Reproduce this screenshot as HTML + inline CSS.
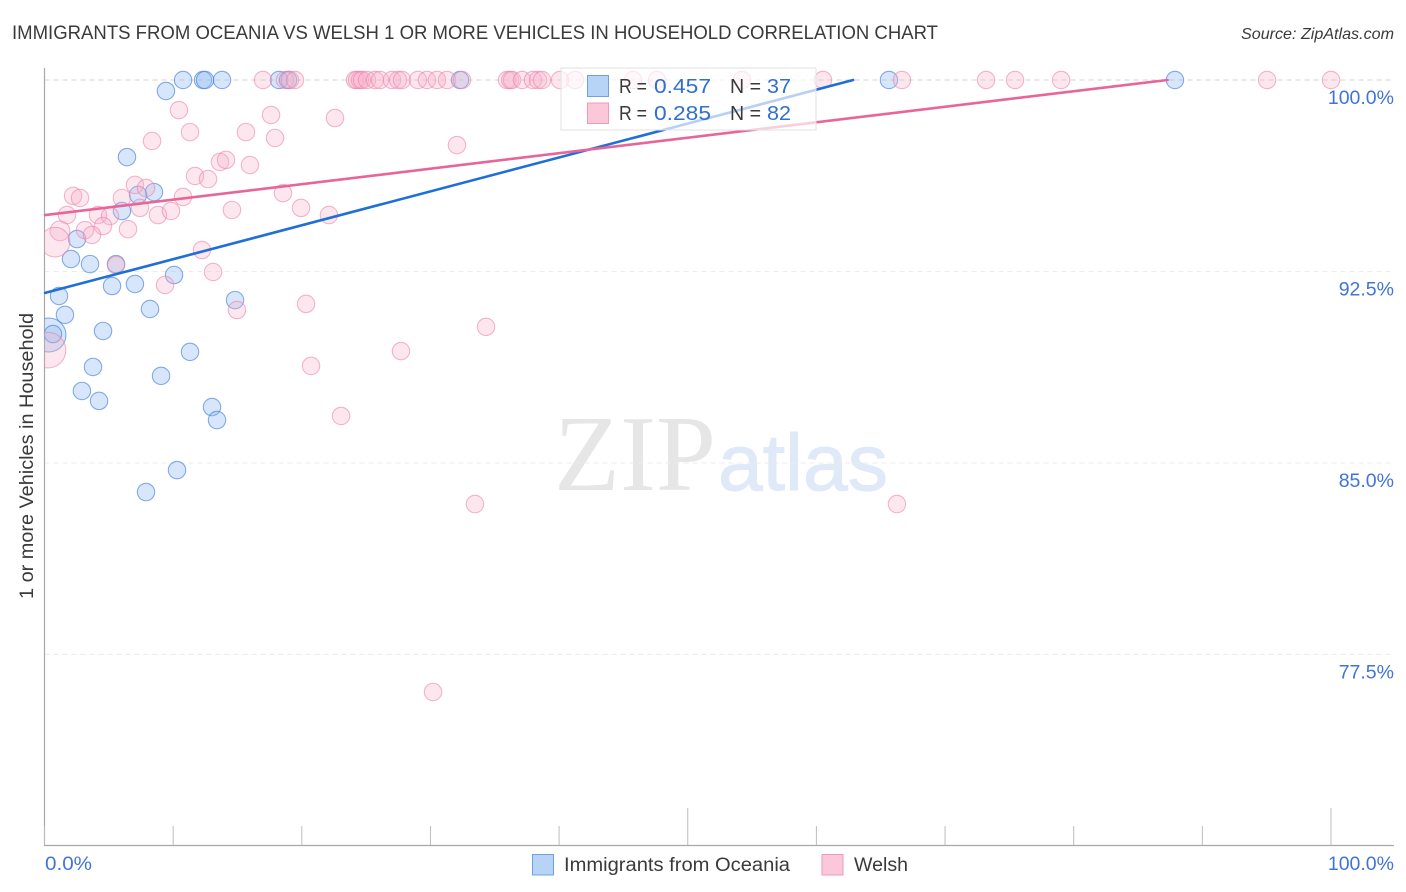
<!DOCTYPE html>
<html lang="en">
<head>
<meta charset="utf-8">
<title>Immigrants from Oceania vs Welsh correlation chart</title>
<style>
html,body{margin:0;padding:0;background:#fff;width:1406px;height:892px;overflow:hidden}
svg{display:block;font-family:"Liberation Sans",sans-serif}
</style>
</head>
<body>
<svg id="chart" width="1406" height="892" viewBox="0 0 1406 892" xmlns="http://www.w3.org/2000/svg">
  <defs>
    <clipPath id="plot-clip"><rect x="44.5" y="60" width="1350" height="785"/></clipPath>
  </defs>
  <rect width="1406" height="892" fill="#fff"/>
  <text x="12" y="39" font-size="19.5" fill="#3a3a3a" textLength="926" lengthAdjust="spacingAndGlyphs">IMMIGRANTS FROM OCEANIA VS WELSH 1 OR MORE VEHICLES IN HOUSEHOLD CORRELATION CHART</text>
  <text x="1394" y="39" font-size="16" font-style="italic" fill="#3a3a3a" text-anchor="end" textLength="153" lengthAdjust="spacingAndGlyphs">Source: ZipAtlas.com</text>

  <g>
    <text x="554" y="490" font-family="'Liberation Serif',serif" font-size="108" fill="#e6e6e6" textLength="162" lengthAdjust="spacingAndGlyphs">ZIP</text>
    <text x="718" y="490" font-size="80" fill="#dfe9f7" stroke="#dfe9f7" stroke-width="1" textLength="170" lengthAdjust="spacingAndGlyphs">atlas</text>
  </g>

  <g id="grid"></g>
  <g id="axes"></g>
  <g id="blue-points" clip-path="url(#plot-clip)"></g>
  <g id="pink-points" clip-path="url(#plot-clip)"></g>
  <g id="trend-lines"></g>

  <text transform="translate(33,456) rotate(-90)" font-size="19" fill="#3a3a3a" text-anchor="middle" textLength="286" lengthAdjust="spacingAndGlyphs">1 or more Vehicles in Household</text>

  <g>
    <rect x="561" y="68" width="255" height="62" fill="#fff" fill-opacity="0.68" stroke="#e2e2e2" stroke-width="1"/>
    <rect x="587.5" y="75.5" width="21" height="21" fill="#b7d3f6" stroke="#6fa0e0"/>
    <rect x="587.5" y="103" width="21" height="20.5" fill="#fcc8d9" stroke="#ee9ab8"/>
    <text x="619" y="93" font-size="20" fill="#3a3a3a" textLength="28" lengthAdjust="spacingAndGlyphs">R =</text>
    <text x="654" y="93" font-size="20.5" fill="#2f6fce" textLength="57" lengthAdjust="spacingAndGlyphs">0.457</text>
    <text x="730" y="93" font-size="20" fill="#3a3a3a" textLength="31" lengthAdjust="spacingAndGlyphs">N =</text>
    <text x="767" y="93" font-size="20.5" fill="#2f6fce" textLength="24" lengthAdjust="spacingAndGlyphs">37</text>
    <text x="619" y="120" font-size="20" fill="#3a3a3a" textLength="28" lengthAdjust="spacingAndGlyphs">R =</text>
    <text x="654" y="120" font-size="20.5" fill="#2f6fce" textLength="57" lengthAdjust="spacingAndGlyphs">0.285</text>
    <text x="730" y="120" font-size="20" fill="#3a3a3a" textLength="31" lengthAdjust="spacingAndGlyphs">N =</text>
    <text x="767" y="120" font-size="20.5" fill="#2f6fce" textLength="24" lengthAdjust="spacingAndGlyphs">82</text>
  </g>

  <g>
    <g>
      <rect x="532.5" y="854.5" width="21" height="20.5" fill="#b7d3f6" stroke="#6fa0e0"/>
      <text x="564" y="871" font-size="19" fill="#3a3a3a" textLength="226" lengthAdjust="spacingAndGlyphs">Immigrants from Oceania</text>
    </g>
    <g>
      <rect x="822" y="854.5" width="21" height="20.5" fill="#fcc8d9" stroke="#ee9ab8"/>
      <text x="854" y="871" font-size="19" fill="#3a3a3a" textLength="54" lengthAdjust="spacingAndGlyphs">Welsh</text>
    </g>
  </g>
</svg>
<script>
const yTicks = [100, 92.5, 85, 77.5];
const yTickLabels = ["100.0%", "92.5%", "85.0%", "77.5%"];
const xTicks = [0, 10, 20, 30, 40, 50, 60, 70, 80, 90, 100];
const xEndLabels = ["0.0%", "100.0%"];

const blueX = [10.77, 12.32, 12.48, 13.80, 18.23, 18.93, 32.30, 65.64, 87.87, 9.44, 6.41, 8.51, 7.27, 6.02, 2.53, 2.06, 3.54, 5.56, 5.25, 7.03, 10.07, 1.13, 8.20, 14.81, 1.59, 4.55, 0.35, 0.66, 3.77, 11.31, 9.06, 2.91, 4.24, 13.02, 13.41, 10.30, 7.89];
const blueY = [100, 100, 100, 100, 100, 100, 100, 100, 100, 99.57, 96.98, 95.61, 95.50, 94.87, 93.77, 92.99, 92.79, 92.79, 91.93, 92.01, 92.36, 91.54, 91.03, 91.38, 90.80, 90.17, 90.01, 90.05, 88.76, 89.35, 88.41, 87.82, 87.43, 87.19, 86.68, 84.72, 83.86];
const blueSize = [1, 1, 1, 1, 1, 1, 1, 1, 1, 1, 1, 1, 1, 1, 1, 1, 1, 1, 1, 1, 1, 1, 1, 1, 1, 1, 3.8, 1, 1, 1, 1, 1, 1, 1, 1, 1, 1];

const pinkX = [16.98, 18.69, 19.08, 19.47, 24.14, 24.29, 24.52, 24.68, 25.07, 25.69, 26.08, 27.01, 27.48, 27.79, 29.03, 29.73, 30.51, 31.29, 32.45, 35.95, 36.19, 36.34, 37.12, 37.97, 38.36, 38.67, 40.07, 41.24, 45.75, 47.61, 54.22, 60.51, 66.65, 73.19, 75.44, 79.02, 95.03, 100, 10.45, 8.36, 11.31, 17.61, 15.66, 17.92, 22.58, 32.06, 13.64, 14.11, 15.97, 11.70, 12.71, 2.22, 2.76, 7.03, 7.89, 6.02, 10.77, 18.54, 14.57, 19.94, 22.11, 1.75, 4.16, 5.09, 7.42, 8.82, 9.83, 6.49, 4.55, 3.15, 3.69, 1.20, 0.82, 12.24, 13.10, 5.56, 9.37, 20.33, 14.96, 34.32, 27.71, 20.72, 23.05, 33.46, 66.26, 30.20, 0.27];
const pinkY = [100, 100, 100, 100, 100, 100, 100, 100, 100, 100, 100, 100, 100, 100, 100, 100, 100, 100, 100, 100, 100, 100, 100, 100, 100, 100, 100, 100, 100, 100, 100, 100, 100, 100, 100, 100, 100, 100, 98.82, 97.61, 97.96, 98.63, 97.96, 97.73, 98.51, 97.45, 96.79, 96.87, 96.67, 96.24, 96.12, 95.46, 95.38, 95.89, 95.77, 95.38, 95.42, 95.57, 94.91, 94.99, 94.71, 94.71, 94.71, 94.67, 94.99, 94.71, 94.87, 94.16, 94.28, 94.12, 93.93, 94.09, 93.65, 93.34, 92.48, 92.75, 91.97, 91.23, 90.99, 90.33, 89.38, 88.80, 86.84, 83.39, 83.39, 76.03, 89.42];
const pinkSize = [1, 1, 1, 1, 1, 1, 1, 1, 1, 1, 1, 1, 1, 1, 1, 1, 1, 1, 1, 1, 1, 1, 1, 1, 1, 1, 1, 1, 1, 1, 1, 1, 1, 1, 1, 1, 1, 1, 1, 1, 1, 1, 1, 1, 1, 1, 1, 1, 1, 1, 1, 1, 1, 1, 1, 1, 1, 1, 1, 1, 1, 1, 1, 1, 1, 1, 1, 1, 1, 1, 1, 1.3, 2.9, 1, 1, 1, 1, 1, 1, 1, 1, 1, 1, 1, 1, 1, 4.2];

const blueTrendX = [0.05, 62.85];
const blueTrendY = [91.66, 100];
const pinkTrendX = [0.05, 87.3];
const pinkTrendY = [94.71, 100];

const SVG_NS = 'http://www.w3.org/2000/svg';
function xScale(v) { return 44.5 + v * 12.865; }
function yScale(v) { return 80 + (100 - v) * 25.53; }
function radius(s) { return 8.7 * Math.sqrt(s); }
function make(tag, attrs, parent) {
  const el = document.createElementNS(SVG_NS, tag);
  Object.keys(attrs).forEach(function (k) { el.setAttribute(k, attrs[k]); });
  parent.appendChild(el);
  return el;
}

const grid = document.getElementById('grid');
const axes = document.getElementById('axes');

yTicks.forEach(function (t, i) {
  const line = make('line', {
    x1: 44.5, x2: 1394, y1: yScale(t), y2: yScale(t),
    stroke: i === 0 ? '#d3d3d3' : '#ececec', 'stroke-width': 1, 'stroke-dasharray': '5 4'
  }, grid);
  
  
  const label = make('text', {
    x: 1394, y: yScale(t) + 24, 'font-size': 19.5, fill: '#4174d6', 'text-anchor': 'end'
  }, axes);
  label.textContent = yTickLabels[i];
  
  
});

const yAxis = make('line', { x1: 44.5, x2: 44.5, y1: 68, y2: 845, stroke: '#a8a8a8', 'stroke-width': 1.2 }, axes);


const xAxis = make('line', { x1: 44, x2: 1394, y1: 845.5, y2: 845.5, stroke: '#a8a8a8', 'stroke-width': 1.2 }, axes);



xTicks.forEach(function (t) {
  const major = t === 50 || t === 100;
  const tick = make('line', {
    x1: xScale(t), x2: xScale(t), y1: major ? 808 : 826, y2: 845,
    stroke: '#bdbdbd', 'stroke-width': 1
  }, axes);
  
  
});

const xLabelLeft = make('text', { x: 45, y: 870, 'font-size': 19.5, fill: '#4174d6', textLength: 47, lengthAdjust: 'spacingAndGlyphs' }, axes);
xLabelLeft.textContent = xEndLabels[0];


const xLabelRight = make('text', { x: 1394, y: 870, 'font-size': 19.5, fill: '#4174d6', 'text-anchor': 'end' }, axes);
xLabelRight.textContent = xEndLabels[1];



const bluePoints = document.getElementById('blue-points');
blueX.forEach(function (v, i) {
  const c = make('circle', {
    cx: xScale(v), cy: yScale(blueY[i]), r: radius(blueSize[i]),
    fill: 'rgba(143,186,240,0.36)', stroke: 'rgba(70,130,220,0.65)', 'stroke-width': 1.1
  }, bluePoints);
  
  
});

const pinkPoints = document.getElementById('pink-points');
pinkX.forEach(function (v, i) {
  const c = make('circle', {
    cx: xScale(v), cy: yScale(pinkY[i]), r: radius(pinkSize[i]),
    fill: 'rgba(250,175,198,0.3)', stroke: 'rgba(235,130,170,0.58)', 'stroke-width': 1.1
  }, pinkPoints);
  
  
});

const trendLines = document.getElementById('trend-lines');
const blueLine = make('line', {
  x1: xScale(blueTrendX[0]), y1: yScale(blueTrendY[0]), x2: xScale(blueTrendX[1]), y2: yScale(blueTrendY[1]),
  stroke: '#1f6fd8', 'stroke-width': 2.6, 'stroke-linecap': 'round'
}, trendLines);


const pinkLine = make('line', {
  x1: xScale(pinkTrendX[0]), y1: yScale(pinkTrendY[0]), x2: xScale(pinkTrendX[1]), y2: yScale(pinkTrendY[1]),
  stroke: '#e8659a', 'stroke-width': 2.6, 'stroke-linecap': 'round'
}, trendLines);


</script>
</body>
</html>
